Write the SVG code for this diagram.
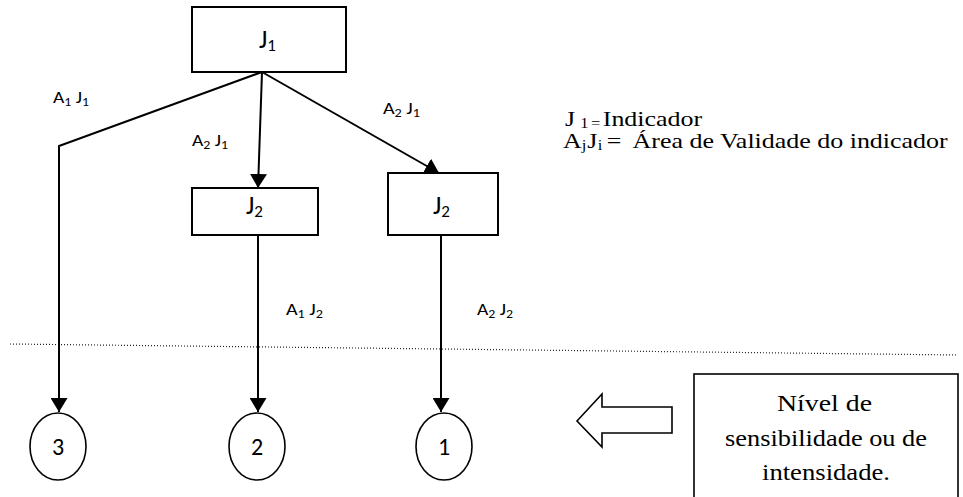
<svg xmlns="http://www.w3.org/2000/svg" width="963" height="497" viewBox="0 0 963 497">
  <style>
    .box { fill: #fff; stroke: #000; stroke-width: 2; }
    .circ { fill: #fff; stroke: #000; stroke-width: 1.6; }
    .edge { fill: none; stroke: #000; stroke-width: 2; }
    .sans { font-family: Carlito, Lato, "Open Sans", "Liberation Sans", sans-serif; fill: #000; }
    .serif { font-family: "Liberation Serif", "Times New Roman", serif; fill: #000; }
    .lbl { font-size: 17px; }
    .lbl .sub { font-size: 12px; }
    .node { font-size: 26px; }
    .node .sub { font-size: 17px; }
    .num { font-size: 24px; }
    .legend { font-size: 22px; }
    .legend .sub { font-size: 14px; }
    .level { font-size: 24px; }
  </style>
  <defs>
    <marker id="arrow" viewBox="0 0 14 17" refX="14" refY="8.5" markerWidth="14" markerHeight="17" markerUnits="userSpaceOnUse" orient="auto">
      <path d="M0,0 L14,8.5 L0,17 Z" fill="#000"/>
    </marker>
  </defs>

  <!-- boundary between indicator tree and sensitivity levels -->
  <line x1="10" y1="344" x2="958" y2="355" stroke="#222" stroke-width="1.2" stroke-dasharray="1 2"/>

  <!-- connectors -->
  <g id="connectors">
    <polyline class="edge" points="262,72 59,146 59,412" marker-end="url(#arrow)"/>
    <line class="edge" x1="262" y1="72" x2="258" y2="188" marker-end="url(#arrow)"/>
    <line class="edge" x1="262" y1="72" x2="439" y2="173" marker-end="url(#arrow)"/>
    <line class="edge" x1="258" y1="235" x2="258" y2="412" marker-end="url(#arrow)"/>
    <line class="edge" x1="441" y1="235" x2="441" y2="412" marker-end="url(#arrow)"/>
  </g>

  <!-- edge labels -->
  <g id="edge-labels" class="sans lbl">
    <text x="53" y="103" textLength="36" lengthAdjust="spacingAndGlyphs">A<tspan class="sub" dy="3">1</tspan><tspan dy="-3"> J</tspan><tspan class="sub" dy="3">1</tspan></text>
    <text x="192" y="146" textLength="36" lengthAdjust="spacingAndGlyphs">A<tspan class="sub" dy="3">2</tspan><tspan dy="-3"> J</tspan><tspan class="sub" dy="3">1</tspan></text>
    <text x="383" y="114" textLength="37" lengthAdjust="spacingAndGlyphs">A<tspan class="sub" dy="3">2</tspan><tspan dy="-3"> J</tspan><tspan class="sub" dy="3">1</tspan></text>
    <text x="286" y="315" textLength="37" lengthAdjust="spacingAndGlyphs">A<tspan class="sub" dy="3">1</tspan><tspan dy="-3"> J</tspan><tspan class="sub" dy="3">2</tspan></text>
    <text x="477" y="315" textLength="36" lengthAdjust="spacingAndGlyphs">A<tspan class="sub" dy="3">2</tspan><tspan dy="-3"> J</tspan><tspan class="sub" dy="3">2</tspan></text>
  </g>

  <!-- indicator nodes -->
  <g id="node-j1">
    <rect class="box" x="192" y="7" width="154" height="65"/>
    <text class="sans node" x="259" y="48">J<tspan class="sub" dy="3">1</tspan></text>
  </g>
  <g id="node-j2-left">
    <rect class="box" x="192" y="188" width="126" height="47"/>
    <text class="sans node" x="246" y="214">J<tspan class="sub" dy="3">2</tspan></text>
  </g>
  <g id="node-j2-right">
    <rect class="box" x="388" y="173" width="110" height="62"/>
    <text class="sans node" x="433" y="214">J<tspan class="sub" dy="3">2</tspan></text>
  </g>

  <!-- sensitivity level nodes -->
  <g id="level-3">
    <ellipse class="circ" cx="58" cy="446.5" rx="28" ry="33.5"/>
    <text class="sans num" x="58" y="455" text-anchor="middle">3</text>
  </g>
  <g id="level-2">
    <ellipse class="circ" cx="257" cy="446.5" rx="28" ry="33.5"/>
    <text class="sans num" x="257" y="455" text-anchor="middle">2</text>
  </g>
  <g id="level-1">
    <ellipse class="circ" cx="444" cy="446.5" rx="28" ry="33.5"/>
    <text class="sans num" x="444" y="455" text-anchor="middle">1</text>
  </g>

  <!-- legend -->
  <g id="legend" class="serif legend">
    <text transform="translate(565,126) scale(1.18,1)">J<tspan class="sub" x="13" dy="2">1</tspan><tspan class="sub" x="22">=</tspan><tspan x="32" dy="-2">Indicador</tspan></text>
    <text transform="translate(563,148) scale(1.18,1)">A<tspan class="sub" x="16" dy="2">j</tspan><tspan x="20.5" dy="-2">J</tspan><tspan class="sub" x="29.5" dy="2">i</tspan><tspan x="37" dy="-2">=</tspan><tspan x="59">Área de Validade do indicador</tspan></text>
  </g>

  <!-- pointer towards the levels -->
  <g id="level-pointer">
    <polygon points="577,421 602,394 602,407 672,407 672,433 602,433 602,447" fill="#fff" stroke="#000" stroke-width="1.6"/>
  </g>

  <!-- level description box -->
  <g id="level-note" class="serif level">
    <rect x="694" y="374" width="264" height="135" fill="#fff" stroke="#000" stroke-width="1.6"/>
    <text x="824.5" y="411" text-anchor="middle" textLength="95" lengthAdjust="spacingAndGlyphs">Nível de</text>
    <text x="826" y="446" text-anchor="middle" textLength="202" lengthAdjust="spacingAndGlyphs">sensibilidade ou de</text>
    <text x="826" y="480" text-anchor="middle" textLength="128" lengthAdjust="spacingAndGlyphs">intensidade.</text>
  </g>
</svg>
